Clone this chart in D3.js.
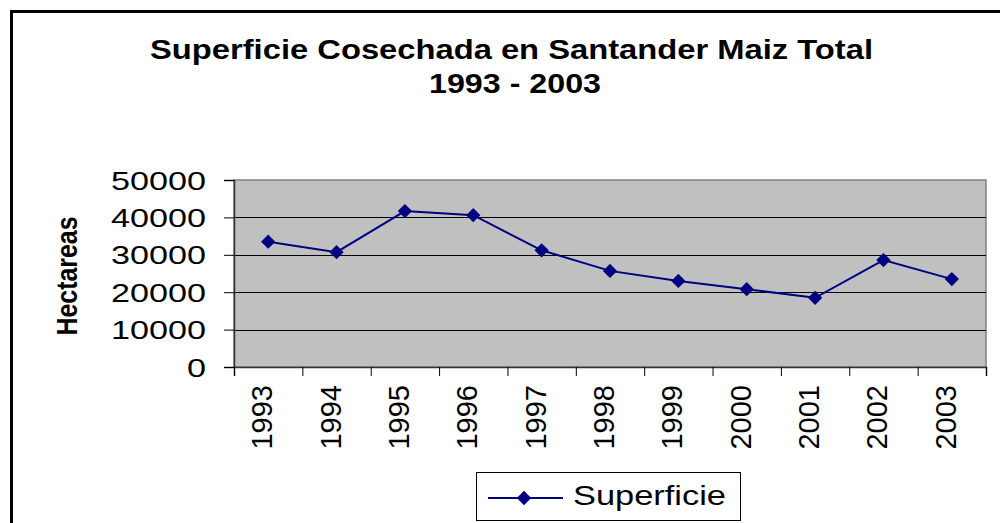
<!DOCTYPE html>
<html>
<head>
<meta charset="utf-8">
<script src="https://cdn.jsdelivr.net/npm/d3@7"></script>
<style>
  html, body { margin: 0; padding: 0; background: #fff; }
  svg { display: block; }
  text { font-family: "Liberation Sans", Arial, sans-serif; }
</style>
</head>
<body>
<svg id="chart" width="1000" height="523"></svg>
<script>
const years = ["1993","1994","1995","1996","1997","1998","1999","2000","2001","2002","2003"];
const superficie = [33500, 30700, 41700, 40600, 31200, 25700, 23000, 20800, 18500, 28600, 23500];
const yTicks = [0, 10000, 20000, 30000, 40000, 50000];
const titleLines = ["Superficie Cosechada en Santander Maiz Total", "1993 - 2003"];
const yTitle = "Hectareas";
const seriesName = "Superficie";

const svg = d3.select("#chart");
const plot = { left: 234, right: 986, top: 180, bottom: 367 };
const navy = "#000080";

// outer frame
svg.append("rect").attr("x", 11.5).attr("y", 11.5).attr("width", 1000).attr("height", 530)
  .attr("fill", "#fff").attr("stroke", "#000").attr("stroke-width", 3);

// title
svg.append("text").attr("x", 511.5).attr("y", 59).attr("text-anchor", "middle")
  .attr("font-size", 27).attr("font-weight", "bold")
  .attr("textLength", 723).attr("lengthAdjust", "spacingAndGlyphs").text(titleLines[0]);
svg.append("text").attr("x", 515).attr("y", 93).attr("text-anchor", "middle")
  .attr("font-size", 27).attr("font-weight", "bold")
  .attr("textLength", 172).attr("lengthAdjust", "spacingAndGlyphs").text(titleLines[1]);

const x = d3.scaleBand().domain(years).range([plot.left, plot.right]).padding(0);
const xi = d3.scaleLinear().domain([0, years.length]).range([plot.left, plot.right]);
const y = d3.scaleLinear().domain([0, 50000]).range([plot.bottom, plot.top]);

// plot background
svg.append("rect").attr("x", plot.left).attr("y", plot.top)
  .attr("width", plot.right - plot.left).attr("height", plot.bottom - plot.top)
  .attr("fill", "#C0C0C0").attr("stroke", "#808080").attr("stroke-width", 1.5);

// gridlines
svg.append("g").selectAll("line").data(yTicks.filter(v => v > 0 && v < 50000)).join("line")
  .attr("x1", plot.left).attr("x2", plot.right)
  .attr("y1", d => Math.round(y(d)) + 0.5).attr("y2", d => Math.round(y(d)) + 0.5)
  .attr("stroke", "#000").attr("stroke-width", 1);

// y axis
const yAxis = svg.append("g").attr("transform", `translate(${plot.left},0)`)
  .call(d3.axisLeft(y).tickValues(yTicks).tickSize(10).tickPadding(18).tickFormat(d3.format("d")));
yAxis.select(".domain").attr("stroke", "#333").attr("stroke-width", 1.5);
yAxis.selectAll(".tick line").attr("stroke", "#000");
yAxis.selectAll(".tick text").attr("font-size", 25).attr("fill", "#000")
  .attr("font-family", "'Liberation Sans', Arial, sans-serif")
  .attr("dy", "0.36em")
  .attr("textLength", d => 19 * String(d).length)
  .attr("lengthAdjust", "spacingAndGlyphs");

// x axis ticks at band boundaries
const xAxis = svg.append("g").attr("transform", `translate(0,${plot.bottom})`)
  .call(d3.axisBottom(xi).tickValues(d3.range(years.length + 1)).tickSize(9).tickFormat(""));
xAxis.select(".domain").attr("stroke", "#333").attr("stroke-width", 1.5);
xAxis.selectAll(".tick line").attr("stroke", "#000");

// x labels rotated
svg.append("g").selectAll("text").data(years).join("text")
  .attr("transform", d => `translate(${x(d) + x.bandwidth() / 2 + 4},385) rotate(-90)`)
  .attr("text-anchor", "end").attr("font-size", 29).attr("fill", "#000")
  .text(d => d);

// y title
svg.append("text").attr("transform", "translate(77,276) rotate(-90)")
  .attr("text-anchor", "middle").attr("font-size", 30).attr("font-weight", "bold")
  .attr("textLength", 119).attr("lengthAdjust", "spacingAndGlyphs").text(yTitle);

// line
const pts = years.map((yr, i) => ({ yr, v: superficie[i] }));
svg.append("path").datum(pts)
  .attr("d", d3.line().x(d => x(d.yr) + x.bandwidth() / 2).y(d => y(d.v)))
  .attr("fill", "none").attr("stroke", navy).attr("stroke-width", 2);

const diamond = d3.symbol().type(d3.symbolDiamond2).size(130);
svg.append("g").selectAll("path").data(pts).join("path")
  .attr("transform", d => `translate(${x(d.yr) + x.bandwidth() / 2},${y(d.v)})`)
  .attr("d", diamond).attr("fill", navy);

// legend
const lg = svg.append("g");
lg.append("rect").attr("x", 476.5).attr("y", 472.5).attr("width", 264).attr("height", 48)
  .attr("fill", "#fff").attr("stroke", "#000").attr("stroke-width", 1);
lg.append("line").attr("x1", 488).attr("x2", 563).attr("y1", 498).attr("y2", 498)
  .attr("stroke", navy).attr("stroke-width", 2);
lg.append("path").attr("transform", "translate(524,498)").attr("d", diamond).attr("fill", navy);
lg.append("text").attr("x", 573).attr("y", 505).attr("font-size", 28)
  .attr("textLength", 153).attr("lengthAdjust", "spacingAndGlyphs").text(seriesName);
</script>
</body>
</html>
